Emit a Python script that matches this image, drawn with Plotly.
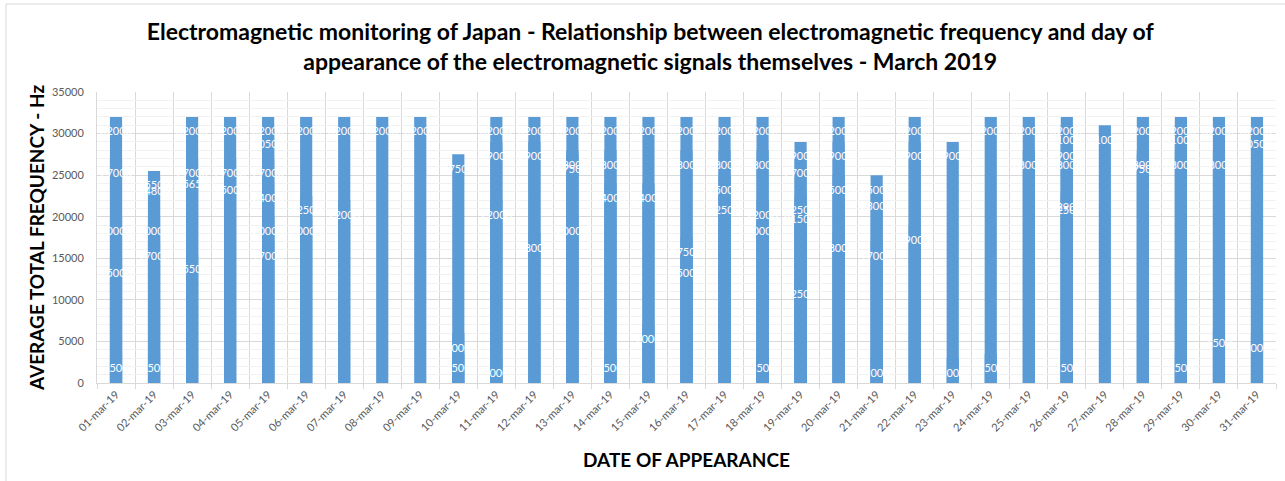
import plotly.graph_objects as go

# Dates of appearance (category labels on the x axis)
DATES = [f"{d:02d}-mar-19" for d in range(1, 32)]

# Frequencies (Hz) of the signals recorded on each day
FREQ_01 = [32000, 27000, 20000, 15000, 3500]
FREQ_02 = [25500, 24800, 20000, 17000, 3500]
FREQ_03 = [32000, 27000, 25650, 15500]
FREQ_04 = [32000, 27000, 25000]
FREQ_05 = [32000, 30500, 27000, 24000, 20000, 17000]
FREQ_06 = [32000, 22500, 20000]
FREQ_07 = [32000, 22000]
FREQ_08 = [32000]
FREQ_09 = [32000]
FREQ_10 = [27500, 6000, 3500]
FREQ_11 = [32000, 29000, 22000, 3000]
FREQ_12 = [32000, 29000, 18000]
FREQ_13 = [32000, 28000, 27500, 20000]
FREQ_14 = [32000, 28000, 24000, 3500]
FREQ_15 = [32000, 24000, 7000]
FREQ_16 = [32000, 28000, 17500, 15000]
FREQ_17 = [32000, 28000, 25000, 22500]
FREQ_18 = [32000, 28000, 22000, 20000, 3500]
FREQ_19 = [29000, 27000, 22500, 21500, 12500]
FREQ_20 = [32000, 29000, 25000, 18000]
FREQ_21 = [25000, 23000, 17000, 3000]
FREQ_22 = [32000, 29000, 19000]
FREQ_23 = [29000, 3000]
FREQ_24 = [32000, 3500]
FREQ_25 = [32000, 28000]
FREQ_26 = [32000, 31000, 29000, 28000, 22900, 22500, 3500]
FREQ_27 = [31000]
FREQ_28 = [32000, 28000, 27500]
FREQ_29 = [32000, 31000, 28000, 3500]
FREQ_30 = [32000, 28000, 6500]
FREQ_31 = [32000, 30500, 6000]

DAILY = [FREQ_01, FREQ_02, FREQ_03, FREQ_04, FREQ_05, FREQ_06, FREQ_07, FREQ_08,
         FREQ_09, FREQ_10, FREQ_11, FREQ_12, FREQ_13, FREQ_14, FREQ_15, FREQ_16,
         FREQ_17, FREQ_18, FREQ_19, FREQ_20, FREQ_21, FREQ_22, FREQ_23, FREQ_24,
         FREQ_25, FREQ_26, FREQ_27, FREQ_28, FREQ_29, FREQ_30, FREQ_31]

Y_TICKS = [0, 5000, 10000, 15000, 20000, 25000, 30000, 35000]

# flatten: one bar per recorded signal, all signals of a day share the slot
xs, ys = [], []
for i, vals in enumerate(DAILY, start=1):
    for v in vals:
        xs.append(i)
        ys.append(v)

BLUE = "#5B9BD5"
FONT = "Lato"

fig = go.Figure()
fig.add_trace(go.Bar(
    x=xs, y=ys, marker=dict(color=BLUE, line=dict(width=0)),
    width=0.32, hoverinfo="x+y", showlegend=False,
))

# value labels, white, just inside the top end of each bar
annotations = []
for x, y in zip(xs, ys):
    annotations.append(dict(
        x=x, y=y, xref="x", yref="y", text=str(y), showarrow=False,
        yanchor="middle", yshift=-14,
        font=dict(family=FONT, size=11, color="white"),
    ))

fig.update_layout(
    width=1285, height=481,
    margin=dict(l=97, r=9, t=92, b=98),
    paper_bgcolor="white", plot_bgcolor="white",
    barmode="overlay",
    title=dict(
        text="Electromagnetic monitoring of Japan - Relationship between electromagnetic frequency and day of"
             "<br>appearance of the electromagnetic signals themselves - March 2019",
        x=0.506, xanchor="center", xref="container",
        y=1 - 40 / 481, yanchor="middle", yref="container",
        font=dict(family=FONT, size=23, color="#000000", weight="bold"),
    ),
    annotations=annotations,
    font=dict(family=FONT),
)

fig.update_xaxes(
    range=[0.5, 31.5],
    tickmode="array", tickvals=list(range(1, 32)), ticktext=DATES,
    tickangle=-45, tickfont=dict(family=FONT, size=11, color="#595959"),
    showgrid=False, ticks="", zeroline=False,
    showline=True, linecolor="#d9d9d9", linewidth=1,
    minor=dict(tick0=0.5, dtick=1, showgrid=True, gridcolor="#d9d9d9", gridwidth=1,
               ticks="outside", ticklen=5, tickcolor="#d9d9d9"),
    title=dict(text="DATE OF APPEARANCE", standoff=20,
               font=dict(family=FONT, size=19, color="#000000", weight="bold")),
    automargin=False,
)

fig.update_yaxes(
    range=[0, 35000], tickmode="array", tickvals=Y_TICKS, tickformat="d",
    tickfont=dict(family=FONT, size=11, color="#595959"),
    showgrid=True, gridcolor="#d9d9d9", gridwidth=1,
    minor=dict(dtick=1000, showgrid=True, gridcolor="#f2f2f2", gridwidth=1),
    zeroline=False, showline=True, linecolor="#d9d9d9", linewidth=1,
    ticks="", ticklabelstandoff=10,
    title=dict(text="AVERAGE TOTAL FREQUENCY - Hz", standoff=2,
               font=dict(family=FONT, size=19, color="#000000", weight="bold")),
    automargin=False,
)

# light frame around the whole chart
fig.add_shape(type="rect", xref="paper", yref="paper",
              x0=(6 - 97) / 1179, x1=(1295 - 97) / 1179,
              y0=-(500 - 383) / 291, y1=1 + (92 - 4) / 291,
              line=dict(color="#d9d9d9", width=1), layer="below")

fig.write_html("out.html")
